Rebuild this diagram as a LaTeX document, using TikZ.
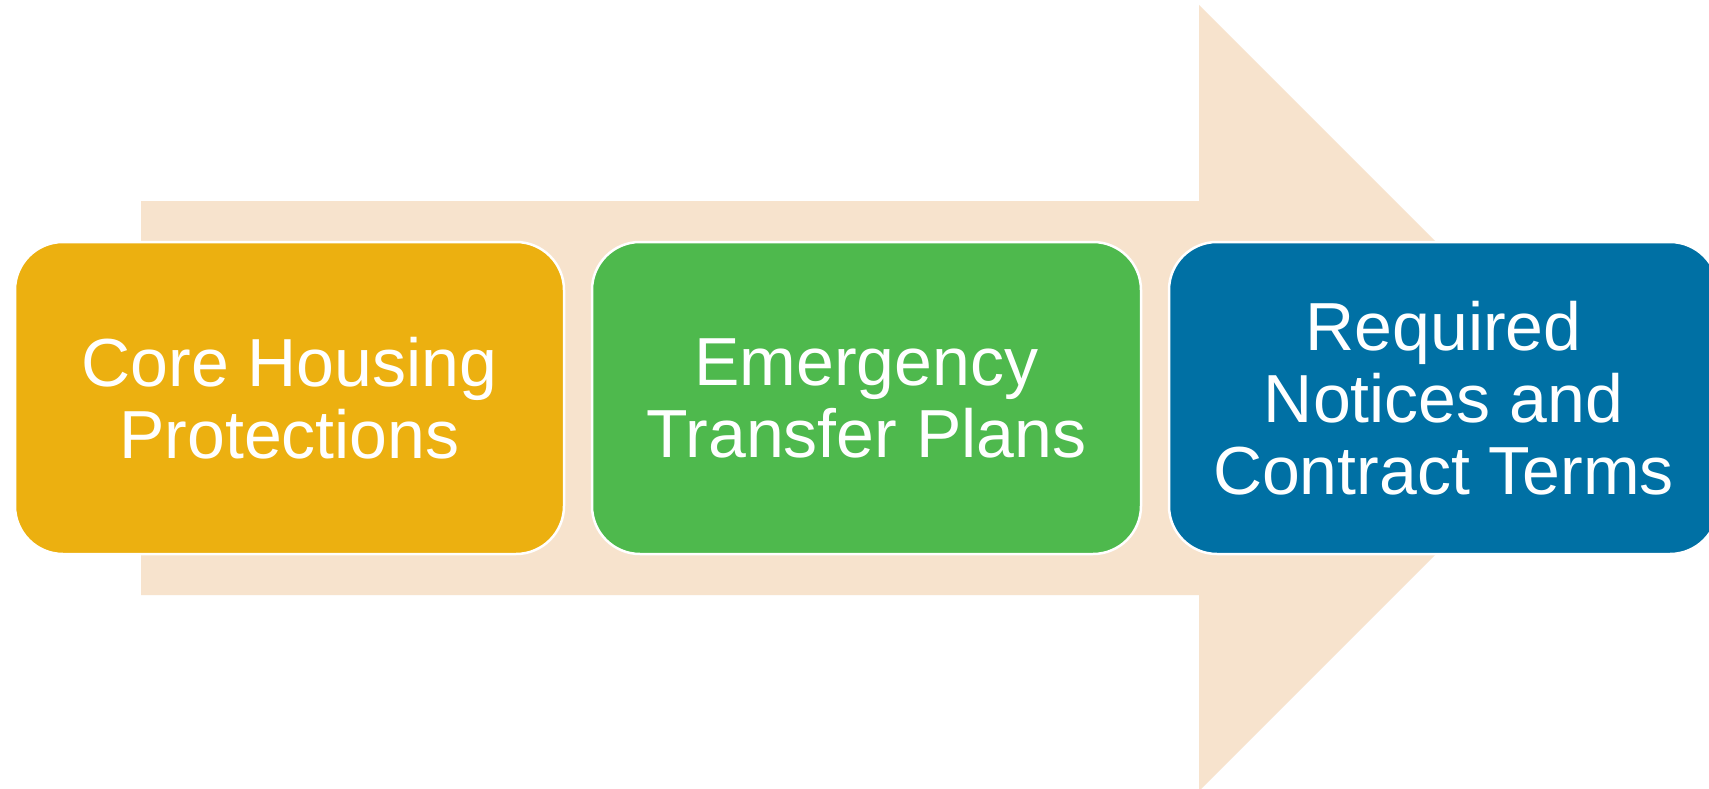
\documentclass[tikz,border=0pt]{standalone}
\usepackage{fontspec}
\setmainfont{Liberation Sans}
\begin{document}
\begin{tikzpicture}[x=1pt,y=-1pt,
  stepbox/.style={draw=white, line width=2.5pt, rounded corners=48pt,
    minimum width=549pt, minimum height=312pt, inner sep=0pt,
    text=white, align=center, font=\fontsize{68}{72}\selectfont},
  arrowbody/.style={fill=peach, draw=none}]
\definecolor{peach}{RGB}{247,227,205}
\definecolor{gold}{RGB}{236,176,16}
\definecolor{leaf}{RGB}{78,185,77}
\definecolor{sea}{RGB}{0,112,164}
% page frame
\clip (0,0) rectangle (1709,789);
\fill[white] (0,0) rectangle (1709,789);
% big block arrow behind the steps
\path[arrowbody] (141,201) -- (1199,201) -- (1199,5) -- (1592,398)
  -- (1199,791) -- (1199,595) -- (141,595) -- cycle;
% the three steps
\node[stepbox, fill=gold] (core) at (289.5,398) {Core Housing\\Protections};
\node[stepbox, fill=leaf] (transfer) at (866.5,398) {Emergency\\Transfer Plans};
\node[stepbox, fill=sea] (notices) at (1443.5,398) {Required\\Notices and\\Contract Terms};
\end{tikzpicture}
\end{document}
